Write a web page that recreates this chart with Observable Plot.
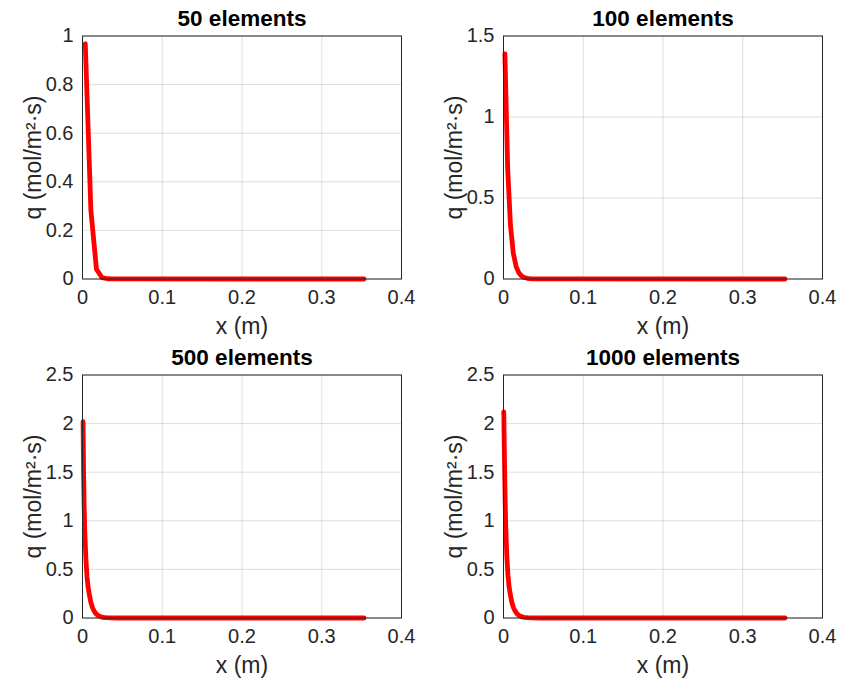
<!DOCTYPE html>
<html>
<head>
<meta charset="utf-8">
<script src="https://cdn.jsdelivr.net/npm/d3@7"></script>
<script src="https://cdn.jsdelivr.net/npm/@observablehq/plot@0.6"></script>
<style>
  html, body { margin: 0; padding: 0; background: #fff; width: 844px; height: 680px; overflow: hidden; }
  .panel { position: absolute; }
</style>
</head>
<body>
<div id="root"></div>
<script>
// ---- data ----
const titles = ["50 elements", "100 elements", "500 elements", "1000 elements"];
const xLabel = "x (m)";
const yLabel = "q (mol/m²·s)";
const xTicks = [0, 0.1, 0.2, 0.3, 0.4];

const x50 = [0.0035, 0.0105, 0.0175, 0.0245, 0.0315, 0.0385, 0.353];
const q50 = [0.968, 0.283, 0.040, 0.006, 0.001, 0.0002, 0];
const yTicks50 = [0, 0.2, 0.4, 0.6, 0.8, 1];

const x100 = [0.00175, 0.00525, 0.00875, 0.01225, 0.01575, 0.01925, 0.02275, 0.02625, 0.02975, 0.03325, 0.03675, 0.353];
const q100 = [1.39, 0.68, 0.33, 0.16, 0.078, 0.038, 0.018, 0.009, 0.0044, 0.002, 0.001, 0];
const yTicks100 = [0, 0.5, 1, 1.5];

const x500 = [0.0007, 0.0014, 0.0021, 0.0028, 0.0042, 0.0056, 0.007, 0.0084, 0.0105, 0.0126, 0.0147, 0.0168, 0.0196, 0.0224, 0.0259, 0.0301, 0.035, 0.0455, 0.353];
const q500 = [2.02, 1.48, 1.15, 0.9, 0.62, 0.43, 0.32, 0.25, 0.16, 0.105, 0.07, 0.045, 0.025, 0.014, 0.007, 0.003, 0.0012, 0.0002, 0];
const yTicks500 = [0, 0.5, 1, 1.5, 2, 2.5];

const x1000 = [0.00035, 0.0007, 0.0014, 0.0021, 0.0028, 0.0042, 0.0056, 0.007, 0.0084, 0.0105, 0.0126, 0.0147, 0.0168, 0.0196, 0.0224, 0.0259, 0.0301, 0.035, 0.0455, 0.353];
const q1000 = [2.12, 1.92, 1.55, 1.2, 0.94, 0.63, 0.44, 0.32, 0.25, 0.16, 0.105, 0.07, 0.045, 0.025, 0.014, 0.007, 0.003, 0.0012, 0.0002, 0];
const yTicks1000 = [0, 0.5, 1, 1.5, 2, 2.5];

const panels = [
  {title: titles[0], xs: x50, qs: q50, yTicks: yTicks50, yMax: 1, left: 0, top: 0},
  {title: titles[1], xs: x100, qs: q100, yTicks: yTicks100, yMax: 1.5, left: 421, top: 0},
  {title: titles[2], xs: x500, qs: q500, yTicks: yTicks500, yMax: 2.5, left: 0, top: 339},
  {title: titles[3], xs: x1000, qs: q1000, yTicks: yTicks1000, yMax: 2.5, left: 421, top: 339}
];

const fmt = d => String(d);
const root = document.getElementById("root");

for (const p of panels) {
  const data = p.xs.map((x, i) => ({x, q: p.qs[i]}));
  const chart = Plot.plot({
    width: 422,
    height: 340,
    marginLeft: 82,
    marginRight: 21,
    marginTop: 35.5,
    marginBottom: 61.5,
    style: {fontFamily: "'Liberation Sans', Arial, sans-serif", fontSize: "20px", color: "#262626", background: "white", overflow: "visible"},
    x: {domain: [0, 0.4], ticks: xTicks, tickFormat: fmt, tickSize: 0, tickPadding: 11, label: null},
    y: {domain: [0, p.yMax], ticks: p.yTicks, tickFormat: fmt, tickSize: 0, tickPadding: 9, label: null},
    marks: [
      Plot.gridX(xTicks, {stroke: "#262626", strokeOpacity: 0.15}),
      Plot.gridY(p.yTicks, {stroke: "#262626", strokeOpacity: 0.15}),
      Plot.line(data, {x: "x", y: "q", stroke: "#ff0000", strokeWidth: 4.8}),
      Plot.frame({stroke: "#262626", strokeWidth: 1}),
      Plot.text([p.title], {frameAnchor: "top", textAnchor: "middle", lineAnchor: "middle", dy: -17, text: d => d, fontWeight: "bold", fontSize: 22.5, fill: "#000"}),
      Plot.text([xLabel], {frameAnchor: "bottom", textAnchor: "middle", lineAnchor: "middle", dy: 47.5, text: d => d, fontSize: 23, fill: "#262626"}),
      Plot.text([yLabel], {frameAnchor: "left", textAnchor: "middle", lineAnchor: "middle", dx: -49, rotate: -90, text: d => d, fontSize: 23, fill: "#262626"})
    ]
  });
  const wrap = document.createElement("div");
  wrap.className = "panel";
  wrap.style.left = p.left + "px";
  wrap.style.top = p.top + "px";
  wrap.appendChild(chart);
  root.appendChild(wrap);
}
</script>
</body>
</html>
